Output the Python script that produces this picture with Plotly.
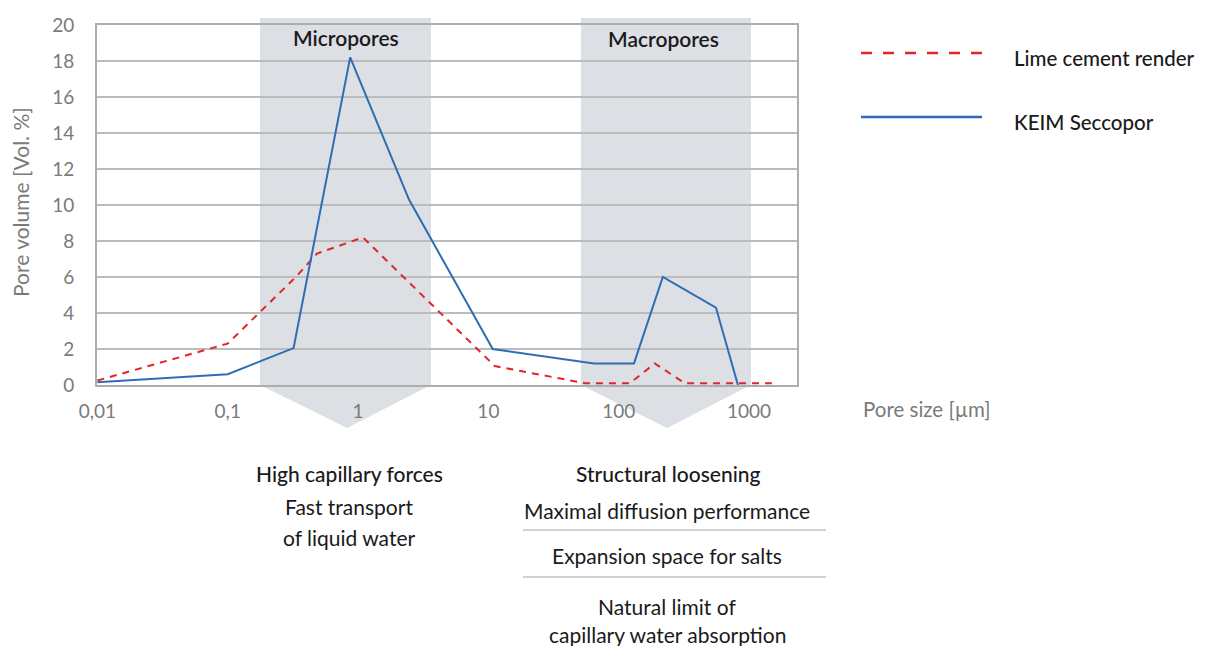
import plotly.graph_objects as go

# ---------------- data ----------------
pore_size_ticks = [0.01, 0.1, 1, 10, 100, 1000]
pore_size_ticktext = ["0,01", "0,1", "1", "10", "100", "1000"]

keim_size = [0.01, 0.1, 0.32, 0.87, 2.46, 10.8, 64.6, 131, 218, 557, 822]
keim_volume = [0.15, 0.6, 2.05, 18.2, 10.3, 2.0, 1.2, 1.2, 6.0, 4.3, 0.0]

lime_size = [0.01, 0.1, 0.333, 0.484, 1.09, 11.2, 55, 122, 189, 321, 1496]
lime_volume = [0.25, 2.3, 6.0, 7.3, 8.2, 1.05, 0.1, 0.1, 1.2, 0.1, 0.1]

series_names = ["Lime cement render", "KEIM Seccopor"]
band_labels = ["Micropores", "Macropores"]

# ---------------- style ----------------
W, H = 1209, 646
L, R, T, B = 97, 797, 25, 385
FONT = "Lato"
RED = "#e0262a"
BLUE = "#2e6db4"
BAND = "#dcdfe4"
GRID = "#bcbcbf"
GRAYTXT = "#7a7a7a"
DARK = "#1a1a1a"


def px(x):
    return (x - L) / (R - L)


def py(y):
    return (B - y) / (B - T)


fig = go.Figure()
fig.add_trace(go.Scatter(x=lime_size, y=lime_volume, mode="lines", name=series_names[0],
                         line=dict(color=RED, width=2, dash="7px,6px"), showlegend=False,
                         hoverinfo="skip"))
fig.add_trace(go.Scatter(x=keim_size, y=keim_volume, mode="lines", name=series_names[1],
                         line=dict(color=BLUE, width=2), showlegend=False,
                         hoverinfo="skip"))

shapes = []
# bands with chevrons (decoration)
for (x0, x1, xm) in [(260, 431, 347), (581, 751, 667)]:
    path = (f"M {px(x0)} {py(18)} L {px(x1)} {py(18)} L {px(x1)} {py(385)} "
            f"L {px(xm)} {py(428)} L {px(x0)} {py(385)} Z")
    shapes.append(dict(type="path", xref="paper", yref="paper", path=path,
                       fillcolor=BAND, line=dict(width=0), layer="below"))
# separators under bottom text
for yy in [530, 577]:
    shapes.append(dict(type="line", xref="paper", yref="paper", x0=px(523), x1=px(826),
                       y0=py(yy), y1=py(yy), line=dict(color="#9aa5b1", width=1)))
# legend samples
shapes.append(dict(type="line", xref="paper", yref="paper", x0=px(861), x1=px(982),
                   y0=py(53), y1=py(53), line=dict(color=RED, width=2.5, dash="11px,11px")))
shapes.append(dict(type="line", xref="paper", yref="paper", x0=px(861), x1=px(982),
                   y0=py(117), y1=py(117), line=dict(color=BLUE, width=2.5)))

annotations = []


def ann(text, x, y, size, color=DARK, xanchor="center", angle=0, weight=400):
    annotations.append(dict(text=text, xref="paper", yref="paper", x=px(x), y=py(y),
                            xanchor=xanchor, yanchor="middle", showarrow=False,
                            textangle=angle,
                            font=dict(family=FONT, size=size, color=color, weight=weight)))


ann(band_labels[0], 346, 37, 21, weight=600)
ann(band_labels[1], 663, 39, 21, weight=600)
ann(series_names[0], 1012, 58, 20.5, xanchor="left", weight=500)
ann(series_names[1], 1012, 122, 20.5, xanchor="left", weight=500)
ann("Pore size [µm]", 861, 409, 20.5, color=GRAYTXT, xanchor="left")
ann("Pore volume [Vol. %]", 20, 202, 21, color=GRAYTXT, angle=-90)
ann("High capillary forces", 349, 473, 21, weight=500)
ann("Fast transport", 349, 506, 21)
ann("of liquid water", 349, 537, 21)
ann("Structural loosening", 668, 473, 21, weight=500)
ann("Maximal diffusion performance", 667, 510, 21)
ann("Expansion space for salts", 667, 555, 21)
ann("Natural limit of", 667, 606, 21)
ann("capillary water absorption", 667, 634, 21)

fig.update_layout(
    width=W, height=H, autosize=False,
    margin=dict(l=L, r=W - R, t=T, b=H - B, pad=0),
    paper_bgcolor="white", plot_bgcolor="rgba(0,0,0,0)",
    shapes=shapes, annotations=annotations, showlegend=False,
    font=dict(family=FONT),
    xaxis=dict(type="log", range=[-2.003, 3.368], tickvals=pore_size_ticks,
               ticktext=pore_size_ticktext, showgrid=False, zeroline=False,
               showline=True, linecolor="#adadad", linewidth=2, mirror=True,
               ticks="outside", ticklen=0, ticklabelstandoff=8,
               tickfont=dict(family=FONT, size=19, color=GRAYTXT)),
    yaxis=dict(range=[0, 20], dtick=2, showgrid=True, gridcolor=GRID, gridwidth=1.5,
               zeroline=False, showline=True, linecolor="#adadad", linewidth=2, mirror=True,
               ticks="outside", ticklen=0, ticklabelstandoff=17,
               tickfont=dict(family=FONT, size=19, color=GRAYTXT)),
)

fig.write_html("out.html", config={"displayModeBar": False},
               post_script="document.body.style.margin='0';")
